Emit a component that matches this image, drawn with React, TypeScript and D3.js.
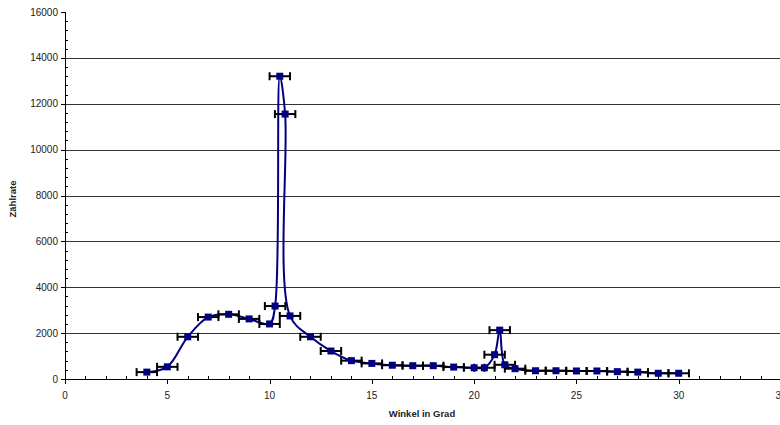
import { useEffect, useRef } from 'react';
import { select, scaleLinear, line, curveCatmullRom, range } from 'd3';

const width = 780;
const height = 425;

// Winkel (Grad) und Zählrate
const winkel = [4, 5, 6, 7, 8, 9, 10, 10.27, 10.5, 10.76, 11, 12, 13, 14, 15, 16, 17, 18, 19, 20, 20.5, 21, 21.25, 21.5, 22, 23, 24, 25, 26, 27, 28, 29, 30];
const zaehlrate = [300, 530, 1840, 2700, 2820, 2620, 2400, 3180, 13200, 11550, 2750, 1840, 1220, 800, 680, 600, 580, 580, 520, 490, 490, 1060, 2130, 620, 450, 360, 360, 350, 350, 320, 300, 250, 250];
const fehlerX = 0.5;

const xTicks = [0, 5, 10, 15, 20, 25, 30, 35];
const yTicks = [0, 2000, 4000, 6000, 8000, 10000, 12000, 14000, 16000];

function App() {
  const ref = useRef(null);

  useEffect(() => {
    const svg = select(ref.current);
    svg.selectAll('*').remove();

    const x = scaleLinear().domain([0, 35]).range([65, 781]);
    const y = scaleLinear().domain([0, 16000]).range([379, 12]);
    const data = winkel.map((w, i) => ({ w, z: zaehlrate[i] }));

    // gridlines
    svg
      .selectAll('.grid')
      .data(yTicks.filter((t) => t > 0 && t < 16000))
      .join('line')
      .attr('x1', x(0))
      .attr('x2', width)
      .attr('y1', (d) => Math.round(y(d)) + 0.5)
      .attr('y2', (d) => Math.round(y(d)) + 0.5)
      .attr('stroke', '#333')
      .attr('stroke-width', 1);

    // y axis
    const ax = svg.append('g').attr('stroke', '#000').attr('stroke-width', 1);
    ax.append('line')
      .attr('x1', x(0) + 0.5)
      .attr('x2', x(0) + 0.5)
      .attr('y1', y(16000))
      .attr('y2', y(0));
    ax.selectAll('.ymin')
      .data(range(0, 16001, 400))
      .join('line')
      .attr('x1', x(0))
      .attr('x2', (d) => (d % 2000 === 0 ? x(0) - 4 : x(0) + 3))
      .attr('y1', (d) => Math.round(y(d)) + 0.5)
      .attr('y2', (d) => Math.round(y(d)) + 0.5);

    // x axis
    ax.append('line')
      .attr('x1', x(0))
      .attr('x2', width)
      .attr('y1', y(0) + 0.5)
      .attr('y2', y(0) + 0.5);
    ax.selectAll('.xmin')
      .data(range(0, 36, 1))
      .join('line')
      .attr('x1', (d) => Math.round(x(d)) + 0.5)
      .attr('x2', (d) => Math.round(x(d)) + 0.5)
      .attr('y1', y(0))
      .attr('y2', (d) => (d % 5 === 0 ? y(0) + 5 : y(0) - 3));

    svg
      .selectAll('.ylab')
      .data(yTicks)
      .join('text')
      .attr('x', x(0) - 7)
      .attr('y', (d) => y(d) + 3.5)
      .attr('text-anchor', 'end')
      .attr('font-family', 'Liberation Sans, Arial, sans-serif')
      .attr('font-size', 10)
      .attr('fill', '#222')
      .text((d) => d);

    svg
      .selectAll('.xlab')
      .data(xTicks)
      .join('text')
      .attr('x', (d) => x(d))
      .attr('y', 399)
      .attr('text-anchor', 'middle')
      .attr('font-family', 'Liberation Sans, Arial, sans-serif')
      .attr('font-size', 10)
      .attr('fill', '#222')
      .text((d) => d);

    svg
      .append('text')
      .attr('x', 422)
      .attr('y', 417)
      .attr('text-anchor', 'middle')
      .attr('font-family', 'Liberation Sans, Arial, sans-serif')
      .attr('font-size', 9.5)
      .attr('font-weight', 'bold')
      .attr('fill', '#222')
      .text('Winkel in Grad');

    svg
      .append('text')
      .attr('transform', 'translate(16,199) rotate(-90)')
      .attr('text-anchor', 'middle')
      .attr('font-family', 'Liberation Sans, Arial, sans-serif')
      .attr('font-size', 9.5)
      .attr('font-weight', 'bold')
      .attr('fill', '#222')
      .text('Zählrate');

    // smoothed line
    const lineGen = line()
      .x((d) => x(d.w))
      .y((d) => y(d.z))
      .curve(curveCatmullRom.alpha(0.5));

    svg
      .append('path')
      .datum(data)
      .attr('d', lineGen)
      .attr('fill', 'none')
      .attr('stroke', '#000080')
      .attr('stroke-width', 2);

    // error bars
    const eb = svg.append('g').attr('stroke', '#000').attr('stroke-width', 2);
    eb.selectAll('.eb')
      .data(data)
      .join('line')
      .attr('x1', (d) => x(d.w - fehlerX))
      .attr('x2', (d) => x(d.w + fehlerX))
      .attr('y1', (d) => y(d.z))
      .attr('y2', (d) => y(d.z));
    eb.selectAll('.capl')
      .data(data)
      .join('line')
      .attr('x1', (d) => x(d.w - fehlerX))
      .attr('x2', (d) => x(d.w - fehlerX))
      .attr('y1', (d) => y(d.z) - 4)
      .attr('y2', (d) => y(d.z) + 4);
    eb.selectAll('.capr')
      .data(data)
      .join('line')
      .attr('x1', (d) => x(d.w + fehlerX))
      .attr('x2', (d) => x(d.w + fehlerX))
      .attr('y1', (d) => y(d.z) - 4)
      .attr('y2', (d) => y(d.z) + 4);

    // markers
    svg
      .selectAll('.pt')
      .data(data)
      .join('rect')
      .attr('x', (d) => x(d.w) - 3.5)
      .attr('y', (d) => y(d.z) - 3.5)
      .attr('width', 7)
      .attr('height', 7)
      .attr('fill', '#000080');
  }, []);

  return (
    <svg
      ref={ref}
      width={width}
      height={height}
      style={{ position: 'absolute', left: 0, top: 0, background: '#fff' }}
    />
  );
}

export default App;
